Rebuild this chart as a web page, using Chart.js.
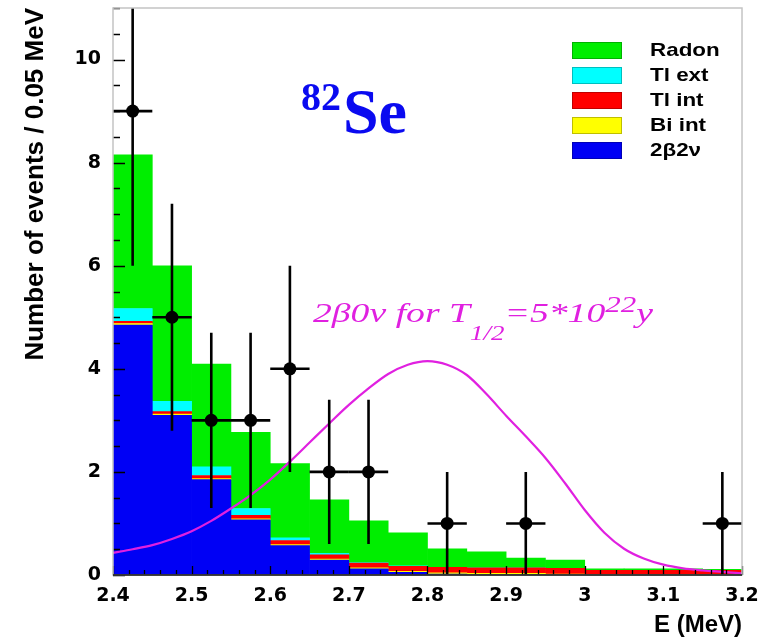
<!DOCTYPE html>
<html>
<head>
<meta charset="utf-8">
<script src="https://cdn.jsdelivr.net/npm/chart.js@4.4.1/dist/chart.umd.min.js"></script>
<style>
  html, body { margin: 0; padding: 0; background: #fff; }
  #wrap { position: relative; width: 769px; height: 642px; overflow: hidden; }
  #c { position: absolute; left: 0; top: 0; }
  .txt { position: absolute; white-space: nowrap; line-height: 1; transform-origin: 0 0; }
  .leg-row { position: absolute; left: 572px; width: 190px; height: 17px; white-space: nowrap; }
  .leg-box { position: absolute; left: 0; top: 0; width: 48px; height: 15px; border: 1px solid rgba(0,0,0,0.25); }
  .leg-text { position: absolute; left: 78px; top: -2px; font: bold 19px "Liberation Sans", Arial, sans-serif; color: #000; line-height: 20px; white-space: nowrap; transform-origin: 0 0; transform: scaleX(1.18); }
</style>
</head>
<body>
<div id="wrap">
  <canvas id="c" width="769" height="642"></canvas>
  <div class="txt" style="left:301px;top:73px;color:#0a0af0;font:bold 40px 'Liberation Serif','Times New Roman',serif;">82</div>
  <div class="txt" style="left:343px;top:75px;color:#0a0af0;font:bold 64px 'Liberation Serif','Times New Roman',serif;">Se</div>
  <div id="sig" class="txt" style="left:313px;top:293px;color:#e020e0;font-family:'Liberation Serif','Times New Roman',serif;font-style:italic;font-size:28px;">2β0ν for T<span style="font-size:20px;vertical-align:-18px;">1/2</span>=5*10<span style="font-size:23px;vertical-align:10px;">22</span>y</div>
  <div id="legend"></div>
</div>
<script>
// histogram bins, 0.05 MeV wide
const binWidth = 0.05;
const binCenters = [2.425, 2.475, 2.525, 2.575, 2.625, 2.675, 2.725, 2.775, 2.825, 2.875, 2.925, 2.975, 3.025, 3.075, 3.125, 3.175];

// stacked MC contributions (bottom to top)
const bb2nu = [4.85, 3.10, 1.85, 1.07, 0.57, 0.29, 0.12, 0.05, 0.02, 0.01, 0.01, 0, 0, 0, 0, 0];
const biInt = [0.03, 0.02, 0.02, 0.02, 0.02, 0.02, 0.02, 0.02, 0.02, 0.02, 0.02, 0.02, 0.01, 0.01, 0.01, 0.01];
const tlInt = [0.04, 0.05, 0.06, 0.07, 0.08, 0.08, 0.09, 0.10, 0.11, 0.11, 0.11, 0.11, 0.08, 0.08, 0.08, 0.08];
const tlExt = [0.25, 0.20, 0.17, 0.13, 0.05, 0.03, 0.01, 0.01, 0, 0, 0, 0, 0, 0, 0, 0];
const radon = [2.98, 2.63, 1.99, 1.48, 1.44, 1.04, 0.81, 0.64, 0.36, 0.31, 0.19, 0.16, 0.03, 0.03, 0.03, 0.02];

// measured events with error bars
const dataE = [2.425, 2.475, 2.525, 2.575, 2.625, 2.675, 2.725, 2.825, 2.925, 3.175];
const dataN = [9, 5, 3, 3, 4, 2, 2, 1, 1, 1];
const errLow = [6.0, 2.8, 1.3, 1.3, 2.0, 0.6, 0.6, 0, 0, 0];
const errHigh = [12.1, 7.2, 4.7, 4.7, 6.0, 3.4, 3.4, 2.0, 2.0, 2.0];

// 2b0v expectation curve
const curveE = [2.400, 2.425, 2.450, 2.475, 2.500, 2.525, 2.550, 2.575, 2.600, 2.625, 2.650, 2.675, 2.700, 2.725, 2.750, 2.775, 2.800,
                2.825, 2.850, 2.875, 2.900, 2.925, 2.950, 2.975, 3.000, 3.025, 3.050, 3.075, 3.100, 3.125, 3.150, 3.175, 3.200];
const curveN = [0.43, 0.50, 0.58, 0.70, 0.85, 1.05, 1.29, 1.55, 1.85, 2.20, 2.57, 2.94, 3.30, 3.62, 3.90, 4.08, 4.15,
                4.08, 3.88, 3.51, 3.09, 2.69, 2.27, 1.78, 1.26, 0.82, 0.51, 0.32, 0.20, 0.13, 0.09, 0.06, 0.03];

const xTicks = [2.4, 2.5, 2.6, 2.7, 2.8, 2.9, 3.0, 3.1, 3.2];
const yTicks = [0, 2, 4, 6, 8, 10];

const seriesNames = ["2β2ν", "Bi int", "Tl int", "Tl ext", "Radon"];
const seriesData = [bb2nu, biInt, tlInt, tlExt, radon];
const seriesColors = ["#0000f5", "#ffff00", "#ff0000", "#00ffff", "#00ee00"];

const barSets = seriesNames.map((name, i) => ({
  type: "bar",
  label: name,
  data: binCenters.map((e, j) => ({ x: e, y: seriesData[i][j] })),
  backgroundColor: seriesColors[i],
  borderWidth: 0,
  barPercentage: 1,
  categoryPercentage: 1,
  order: 3,
}));

// error bars, inner ticks and frame
const decorations = {
  id: "decorations",
  afterDatasetsDraw(chart) {
    const { ctx, chartArea: a, scales: { x, y } } = chart;
    ctx.save();
    ctx.beginPath();
    ctx.rect(a.left, a.top, a.right - a.left, a.bottom - a.top);
    ctx.clip();
    ctx.strokeStyle = "#000";
    ctx.lineWidth = 2.6;
    dataE.forEach((e, i) => {
      const px = x.getPixelForValue(e);
      const py = y.getPixelForValue(dataN[i]);
      ctx.beginPath();
      ctx.moveTo(px, y.getPixelForValue(errLow[i]));
      ctx.lineTo(px, y.getPixelForValue(errHigh[i]));
      ctx.moveTo(x.getPixelForValue(e - binWidth / 2), py);
      ctx.lineTo(x.getPixelForValue(e + binWidth / 2), py);
      ctx.stroke();
    });
    ctx.restore();

    ctx.save();
    ctx.strokeStyle = "#000";
    ctx.lineWidth = 1.3;
    ctx.beginPath();
    for (let i = 0; i <= 40; i++) {
      const px = Math.round(x.getPixelForValue(2.4 + i * 0.02)) + 0.5;
      const len = i % 5 === 0 ? 9 : 5;
      ctx.moveTo(px, a.bottom);
      ctx.lineTo(px, a.bottom - len);
    }
    for (let i = 0; i <= 22; i++) {
      const py = Math.round(y.getPixelForValue(i * 0.5)) + 0.5;
      const len = i % 4 === 0 ? 12 : 7;
      ctx.moveTo(a.left, py);
      ctx.lineTo(a.left + len, py);
    }
    ctx.stroke();

    ctx.strokeStyle = "#c4c4c4";
    ctx.lineWidth = 1.5;
    ctx.strokeRect(a.left, a.top, a.right - a.left, a.bottom - a.top);
    ctx.strokeStyle = "#111";
    ctx.beginPath();
    ctx.moveTo(a.left, a.bottom);
    ctx.lineTo(a.right, a.bottom);
    ctx.stroke();
    ctx.restore();
  },
};

new Chart(document.getElementById("c"), {
  type: "bar",
  data: {
    datasets: [
      ...barSets,
      {
        type: "line",
        label: "2β0ν",
        data: curveE.map((e, i) => ({ x: e, y: curveN[i] })),
        borderColor: "#e020e0",
        borderWidth: 2.2,
        pointRadius: 0,
        fill: false,
        cubicInterpolationMode: "monotone",
        stack: "curve",
        order: 2,
      },
      {
        type: "scatter",
        label: "data",
        data: dataE.map((e, i) => ({ x: e, y: dataN[i] })),
        backgroundColor: "#000",
        pointRadius: 6.5,
        pointBorderWidth: 0,
        stack: "data",
        order: 1,
      },
    ],
  },
  options: {
    responsive: false,
    animation: false,
    events: [],
    layout: { padding: { top: 8, right: 27, left: 0, bottom: 0 } },
    plugins: { legend: { display: false }, tooltip: { enabled: false } },
    scales: {
      x: {
        type: "linear",
        min: 2.4,
        max: 3.2,
        stacked: true,
        offset: false,
        afterBuildTicks: (s) => { s.ticks = xTicks.map((v) => ({ value: v })); },
        afterFit: (s) => { s.height = 67; },
        grid: { display: false, drawTicks: false },
        border: { display: false },
        ticks: {
          padding: 10,
          color: "#000",
          font: { family: "DejaVu Sans", weight: "bold", size: 19 },
          callback: (v) => String(Number(v.toFixed(1))),
          maxRotation: 0,
          autoSkip: false,
        },
        title: {
          display: true,
          text: "E (MeV)",
          align: "end",
          color: "#000",
          font: { family: "Liberation Sans", weight: "bold", size: 24 },
          padding: { top: 0, bottom: 2 },
        },
      },
      y: {
        min: 0,
        max: 11,
        stacked: true,
        afterBuildTicks: (s) => { s.ticks = yTicks.map((v) => ({ value: v })); },
        afterFit: (s) => { s.width = 113; s.paddingTop = 0; s.paddingBottom = 0; },
        grid: { display: false, drawTicks: false },
        border: { display: false },
        ticks: {
          padding: 12,
          color: "#000",
          font: { family: "DejaVu Sans", weight: "bold", size: 19 },
        },
        title: {
          display: true,
          text: "Number of events / 0.05 MeV",
          align: "end",
          color: "#000",
          font: { family: "Liberation Sans", weight: "bold", size: 26 },
          padding: { top: 20, bottom: 0 },
        },
      },
    },
  },
  plugins: [decorations],
});

// stretch the curve label to the width it has in the figure
const sig = document.getElementById("sig");
sig.style.transform = "scaleX(" + (340 / sig.getBoundingClientRect().width) + ")";

// legend, top to bottom as in the figure
const legend = document.getElementById("legend");
seriesNames.slice().reverse().forEach((name, k) => {
  const i = seriesNames.length - 1 - k;
  const row = document.createElement("div");
  row.className = "leg-row";
  row.style.top = 42 + k * 25 + "px";
  const box = document.createElement("div");
  box.className = "leg-box";
  box.style.background = seriesColors[i];
  const t = document.createElement("div");
  t.className = "leg-text";
  t.textContent = name;
  row.appendChild(box);
  row.appendChild(t);
  legend.appendChild(row);
});
</script>
</body>
</html>
